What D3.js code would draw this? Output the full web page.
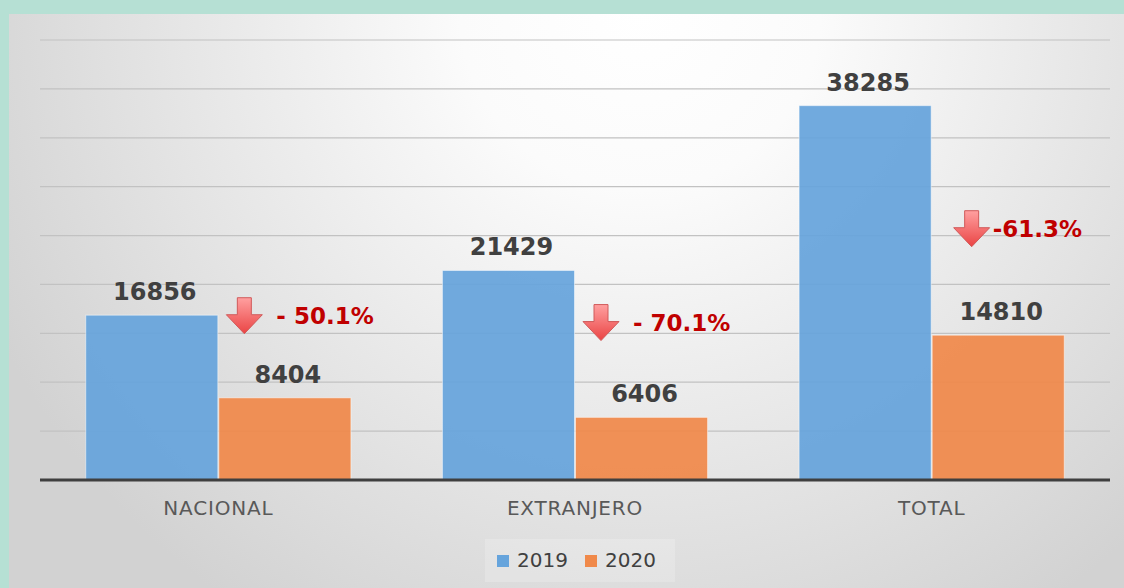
<!DOCTYPE html>
<html>
<head>
<meta charset="utf-8">
<script src="https://cdn.jsdelivr.net/npm/d3@7"></script>
<style>
  body { margin: 0; background: #b6e0d4; }
  svg { display: block; }
</style>
</head>
<body>
<svg width="1124" height="588"></svg>
<script>
var categories = ["NACIONAL", "EXTRANJERO", "TOTAL"];
var seriesNames = ["2019", "2020"];
var values2019 = [16856, 21429, 38285];
var values2020 = [8404, 6406, 14810];
var changeLabels = ["- 50.1%", "- 70.1%", "-61.3%"];
// level (in data units) where each change arrow sits
var changeLevel = [16800, 16100, 25700];
var colors = ["#66a4dc", "#f0894a"];

var svg = d3.select("svg");
var plotLeft = 40, plotRight = 1110, plotTop = 40, plotBottom = 480;

// panel background
var defs = svg.append("defs");
var bg = defs.append("radialGradient")
  .attr("id", "bg")
  .attr("gradientUnits", "userSpaceOnUse")
  .attr("cx", 640).attr("cy", 10).attr("r", 720);
bg.append("stop").attr("offset", "0%").attr("stop-color", "#ffffff");
bg.append("stop").attr("offset", "25%").attr("stop-color", "#fbfbfb");
bg.append("stop").attr("offset", "100%").attr("stop-color", "#d2d2d2");

var arrowGrad = defs.append("linearGradient")
  .attr("id", "arrowGrad")
  .attr("x1", 0).attr("y1", 0).attr("x2", 0).attr("y2", 1);
arrowGrad.append("stop").attr("offset", "0%").attr("stop-color", "#ffa0a0");
arrowGrad.append("stop").attr("offset", "100%").attr("stop-color", "#ea4444");

svg.append("rect")
  .attr("x", 9).attr("y", 14)
  .attr("width", 1124 - 9).attr("height", 588 - 14)
  .attr("fill", "url(#bg)");

var x0 = d3.scaleBand().domain(categories).range([plotLeft, plotRight]);
var x1 = d3.scaleBand().domain(seriesNames).range([0, x0.bandwidth()]).paddingOuter(0.34);
var y = d3.scaleLinear().domain([0, 45000]).range([plotBottom, plotTop]);

var data = categories.map(function(c, i) {
  return {cat: c, vals: [values2019[i], values2020[i]]};
});

// gridlines
svg.append("g")
  .selectAll("line")
  .data(y.ticks(9).filter(function(t) { return t > 0; }))
  .enter()
  .append("line")
  .attr("x1", plotLeft).attr("x2", plotRight)
  .attr("y1", function(d) { return y(d); })
  .attr("y2", function(d) { return y(d); })
  .attr("stroke", "#c2c2c2")
  .attr("stroke-width", 1.2);

// bars
var groups = svg.append("g")
  .selectAll("g")
  .data(data)
  .enter()
  .append("g")
  .attr("transform", function(d) { return "translate(" + x0(d.cat) + ",0)"; });

groups.selectAll("rect")
  .data(function(d) { return d.vals.map(function(v, i) { return {s: seriesNames[i], v: v, i: i}; }); })
  .enter()
  .append("rect")
  .attr("x", function(d) { return x1(d.s) + 0.5; })
  .attr("y", function(d) { return y(d.v); })
  .attr("width", x1.bandwidth() - 1)
  .attr("height", function(d) { return y(0) - y(d.v); })
  .attr("fill", function(d) { return colors[d.i]; })
  .attr("fill-opacity", 0.93)
  .attr("stroke", "#ffffff")
  .attr("stroke-opacity", 0.5)
  .attr("stroke-width", 1);

groups.selectAll("text.val")
  .data(function(d) { return d.vals.map(function(v, i) { return {s: seriesNames[i], v: v}; }); })
  .enter()
  .append("text")
  .attr("class", "val")
  .attr("x", function(d) { return x1(d.s) + x1.bandwidth() / 2 + 3; })
  .attr("y", function(d) { return y(d.v) - 15; })
  .attr("text-anchor", "middle")
  .style("font-family", "DejaVu Sans, sans-serif")
  .style("font-weight", "bold")
  .style("font-size", "24px")
  .attr("fill", "#404040")
  .text(function(d) { return d.v; });

// baseline
svg.append("line")
  .attr("x1", plotLeft).attr("x2", plotRight)
  .attr("y1", y(0)).attr("y2", y(0))
  .attr("stroke", "#3f3f3f")
  .attr("stroke-width", 3);

// category axis labels
svg.append("g")
  .attr("transform", "translate(0," + (y(0) + 35) + ")")
  .selectAll("text")
  .data(categories)
  .enter()
  .append("text")
  .attr("x", function(d) { return x0(d) + x0.bandwidth() / 2; })
  .attr("text-anchor", "middle")
  .style("font-family", "DejaVu Sans, sans-serif")
  .style("font-size", "20px")
  .style("letter-spacing", "0.8px")
  .attr("fill", "#595959")
  .text(function(d) { return d; });

// change annotations
function arrowPath(cx, cy) {
  return "M" + (cx - 7) + "," + (cy - 18) +
    " L" + (cx + 7) + "," + (cy - 18) +
    " L" + (cx + 7) + "," + (cy - 1) +
    " L" + (cx + 18) + "," + (cy - 1) +
    " L" + cx + "," + (cy + 18) +
    " L" + (cx - 18) + "," + (cy - 1) +
    " L" + (cx - 7) + "," + (cy - 1) + " Z";
}

var notes = svg.append("g")
  .selectAll("g")
  .data(categories)
  .enter()
  .append("g");

notes.append("path")
  .attr("d", function(d, i) {
    var cx = x0(d) + x0.bandwidth() / 2 + (i == 2 ? 40 : 26);
    return arrowPath(cx, y(changeLevel[i]));
  })
  .attr("fill", "url(#arrowGrad)")
  .attr("stroke", "#d05a5a")
  .attr("stroke-width", 1);

notes.append("text")
  .attr("x", function(d, i) { return x0(d) + x0.bandwidth() / 2 + (i == 2 ? 61 : 58); })
  .attr("y", function(d, i) { return y(changeLevel[i]) + 8; })
  .style("font-family", "DejaVu Sans, sans-serif")
  .style("font-weight", "bold")
  .style("font-size", "23px")
  .attr("fill", "#c00000")
  .text(function(d, i) { return changeLabels[i]; });

// legend
var legend = svg.append("g").attr("transform", "translate(497,0)");
legend.append("rect")
  .attr("x", -12).attr("y", 539)
  .attr("width", 190).attr("height", 43)
  .attr("fill", "#ffffff").attr("fill-opacity", 0.2);

var items = legend.selectAll("g")
  .data(seriesNames)
  .enter()
  .append("g")
  .attr("transform", function(d, i) { return "translate(" + (i * 88) + ",0)"; });

items.append("rect")
  .attr("x", 0).attr("y", 555)
  .attr("width", 12).attr("height", 12)
  .attr("fill", function(d, i) { return colors[i]; });

items.append("text")
  .attr("x", 20).attr("y", 567)
  .style("font-family", "DejaVu Sans, sans-serif")
  .style("font-size", "20px")
  .attr("fill", "#404040")
  .text(function(d) { return d; });
</script>
</body>
</html>
